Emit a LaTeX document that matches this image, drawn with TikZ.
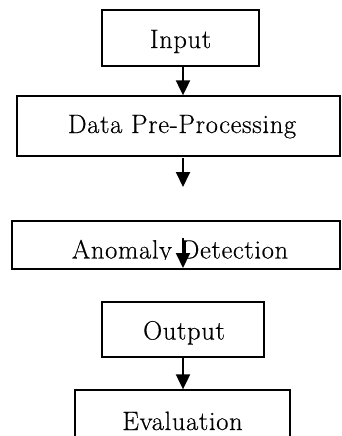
\documentclass[tikz,border=0pt]{standalone}
\usepackage{fontspec}
\newfontfamily\lblfont{Latin Modern Roman}[FakeBold=0.4, LetterSpace=2.5]
\usetikzlibrary{arrows.meta}
\begin{document}
\begin{tikzpicture}[x=1pt,y=-1pt,
  box/.style={draw=black, line width=1.3pt, inner sep=0pt},
  lbl/.style={font=\lblfont\fontsize{26.5}{30}\selectfont, inner sep=0pt, text height=18pt, text depth=0pt},
  arr/.style={line width=2pt, -{Triangle[width=14pt,length=15pt]}}]
\useasboundingbox (0,0) rectangle (341,436);
\clip (0,0) rectangle (341,436);
\fill[white] (0,0) rectangle (341,436);
\coordinate (ax) at (183,0);

% boxes
\node[box, minimum width=157pt, minimum height=56pt] (input) at (180.5,38) {};
\node[box, minimum width=323pt, minimum height=60pt] (data) at (178.5,126) {};
\node[box, minimum width=328pt, minimum height=48pt] (anom) at (176,245) {};
\node[box, minimum width=162pt, minimum height=55pt] (output) at (183,329.5) {};
\node[box, minimum width=215pt, minimum height=70pt] (eval) at (182.5,425) {};

% texts
\node[lbl] (inputtext) at (180.5,39) {Input};
\node[lbl] (datatext) at (182,124) {Data Pre-Processing};
\begin{scope}
\clip (0,0) rectangle (341,259.5);
\node[lbl] (anomtext) at (180,249.5) {Anomaly Detection};
\end{scope}
\node[lbl] (outputtext) at (184,330.5) {Output};
\node[lbl] (evaltext) at (182.5,421) {Evaluation};

% arrows
\coordinate (a2s) at (183,158);
\coordinate (a2e) at (183,187);
\coordinate (a3s) at (183,238);
\coordinate (a3e) at (183,268);
\draw[arr] (input.south -| ax) -- (data.north -| ax);
\draw[arr] (a2s) -- (a2e);
\draw[arr] (a3s) -- (a3e);
\draw[arr] (output.south -| ax) -- (eval.north -| ax);
\end{tikzpicture}
\end{document}
